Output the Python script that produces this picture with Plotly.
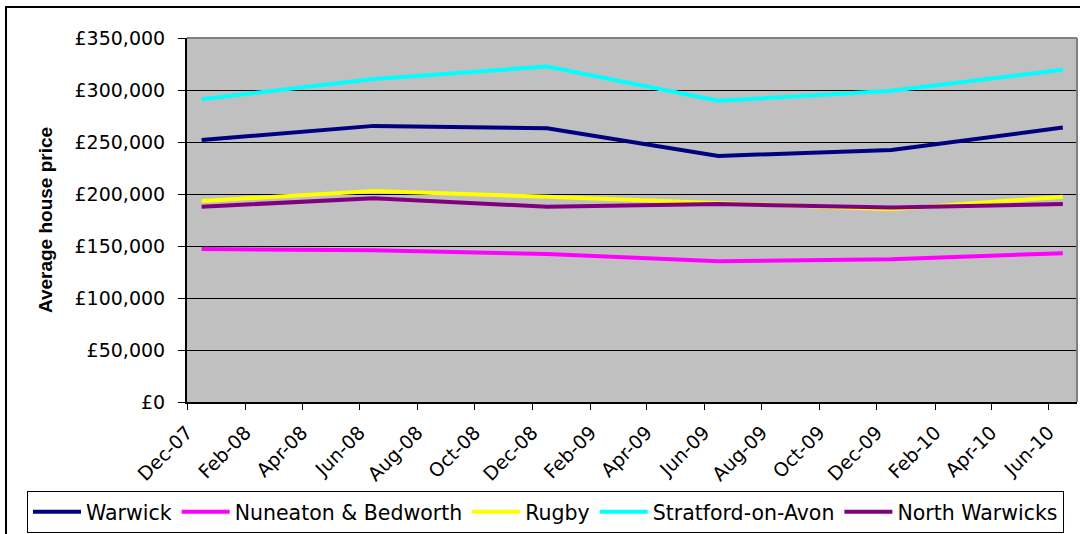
import plotly.graph_objects as go

# Data
dates = ["2007-12-01", "2008-06-01", "2008-12-01", "2009-06-01", "2009-12-01", "2010-06-01"]
warwick = [252000, 265500, 263300, 236600, 242400, 263900]
nuneaton = [147100, 145800, 142300, 135300, 137300, 143100]
rugby = [193300, 202900, 197400, 191100, 185300, 197400]
stratford = [291200, 310500, 322600, 289600, 299200, 319500]
north_warwicks = [187800, 195900, 187800, 190400, 186900, 190400]

series_names = ["Warwick", "Nuneaton & Bedworth", "Rugby", "Stratford-on-Avon", "North Warwicks"]
series_values = [warwick, nuneaton, rugby, stratford, north_warwicks]
series_colors = ["#000080", "#FF00FF", "#FFFF00", "#00FFFF", "#800080"]

y_ticks = [0, 50000, 100000, 150000, 200000, 250000, 300000, 350000]
y_tick_labels = ["£0", "£50,000", "£100,000", "£150,000", "£200,000", "£250,000", "£300,000", "£350,000"]

FONT = "DejaVu Sans"

fig = go.Figure()
for name, vals, col in zip(series_names, series_values, series_colors):
    fig.add_trace(go.Scatter(
        x=dates, y=vals, name=name, mode="lines",
        xperiod="M1", xperiodalignment="middle",
        line=dict(color=col, width=4),
    ))

L, R, T, B = 187, 3, 38, 132
W, H = 1080, 534
pw = W - L - R
ph = H - T - B

fig.update_layout(
    width=W, height=H,
    margin=dict(l=L, r=R, t=T, b=B, autoexpand=False),
    paper_bgcolor="white",
    plot_bgcolor="#C0C0C0",
    font=dict(family=FONT, size=19, color="black"),
    showlegend=True,
    legend=dict(
        orientation="h",
        x=(27 - L) / pw, xanchor="left",
        y=(T + ph - 533) / ph, yanchor="bottom",
        bgcolor="white", bordercolor="black", borderwidth=1,
        font=dict(family=FONT, size=20.5, color="black"),
        itemwidth=48,
        traceorder="normal",
    ),
    xaxis=dict(
        type="date",
        range=["2007-12-01", "2010-07-01"],
        tick0="2007-12-01", dtick="M2",
        tickformat="%b-%y",
        tickangle=-45,
        ticks="outside", ticklen=6, tickcolor="black", tickwidth=1,
        showline=True, linecolor="black", linewidth=2,
        showgrid=False, zeroline=False,
        tickfont=dict(family=FONT, size=19, color="black"),
        ticklabelstandoff=4,
        automargin=False,
    ),
    yaxis=dict(
        range=[0, 350000],
        tickvals=y_ticks, ticktext=y_tick_labels,
        ticks="outside", ticklen=7, tickcolor="black", tickwidth=1,
        showline=True, linecolor="black", linewidth=2,
        showgrid=True, gridcolor="black", gridwidth=1,
        zeroline=False,
        tickfont=dict(family=FONT, size=19, color="black"),
        ticklabelstandoff=9,
        title=dict(text="<b>Average house price</b>",
                   font=dict(family="Liberation Sans", size=19, color="black"),
                   standoff=17),
        automargin=False,
    ),
    shapes=[
        dict(type="line", xref="paper", yref="paper", x0=0, x1=1, y0=1, y1=1,
             line=dict(color="#808080", width=2)),
        dict(type="line", xref="paper", yref="paper", x0=1, x1=1, y0=0, y1=1,
             line=dict(color="#808080", width=2)),
        dict(type="rect", xref="paper", yref="paper",
             x0=(6 - L) / pw, x1=(W + 10 - L) / pw,
             y0=(T + ph - (H + 10)) / ph, y1=(T + ph - 7) / ph,
             line=dict(color="black", width=2), fillcolor="rgba(0,0,0,0)", layer="below"),
    ],
)

fig.write_html("out.html", config={"displayModeBar": False},
               post_script="document.body.style.margin='0';")
